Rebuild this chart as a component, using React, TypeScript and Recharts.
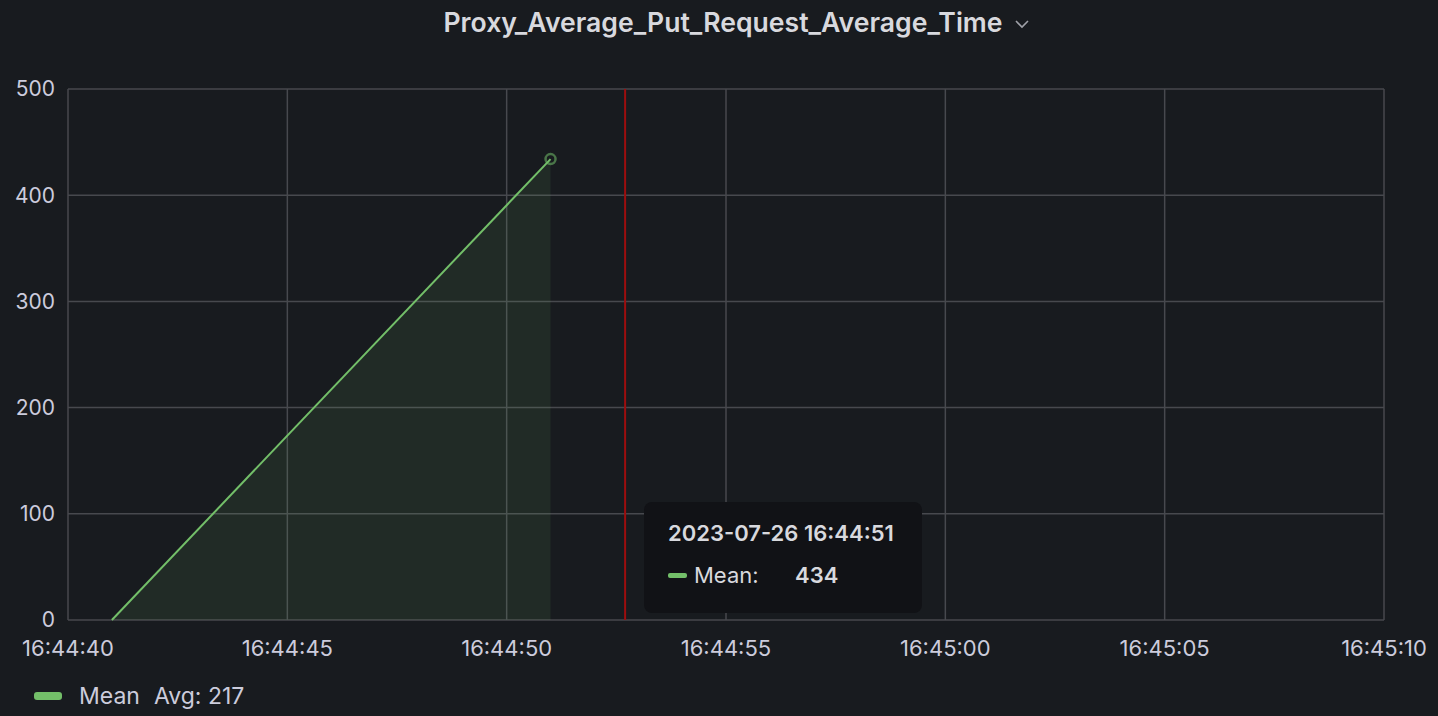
import React from "react";
import {
  ComposedChart,
  Area,
  XAxis,
  YAxis,
  CartesianGrid,
  ReferenceLine,
  Tooltip,
  Legend,
} from "recharts";

// ---- data ----
const times = ["16:44:41", "16:44:51"];
const meanValues = [0, 434];
const xTickLabels = ["16:44:40", "16:44:45", "16:44:50", "16:44:55", "16:45:00", "16:45:05", "16:45:10"];
const yTicks = [0, 100, 200, 300, 400, 500];
const cursorTime = "16:44:52.7";
const tooltipDate = "2023-07-26";
const seriesName = "Mean";
const legendAvg = 217;
const title = "Proxy_Average_Put_Request_Average_Time";

const toSec = (s: string) => {
  const [h, m, sec] = s.split(":");
  return Number(h) * 3600 + Number(m) * 60 + parseFloat(sec);
};
const pad = (n: number) => String(n).padStart(2, "0");
const fmt = (v: number) => {
  const h = Math.floor(v / 3600);
  const m = Math.floor((v % 3600) / 60);
  const s = Math.round(v % 60);
  return `${pad(h)}:${pad(m)}:${pad(s)}`;
};

const data = times.map((t, i) => ({ t: toSec(t), mean: meanValues[i] }));
const xTicks = xTickLabels.map(toSec);

const BG = "#181b1f";
const TEXT = "#ccccdc";
const GREEN = "#73bf69";
const GRID = "#47494e";
const FONT = "Inter, 'Noto Sans', sans-serif";

const TooltipContent = (props: any) => {
  const { payload } = props;
  if (!payload || !payload.length) return null;
  const p = payload[0];
  return (
    <div
      style={{
        width: 278,
        height: 111,
        boxSizing: "border-box",
        background: "#111216",
        borderRadius: 8,
        padding: "16px 0 0 24px",
        fontFamily: FONT,
        color: "#d8d9de",
      }}
    >
      <div style={{ fontSize: 22, fontWeight: 600, lineHeight: "30px" }}>
        {tooltipDate} {fmt(p.payload.t)}
      </div>
      <div style={{ display: "flex", alignItems: "center", marginTop: 12, fontSize: 22, lineHeight: "30px" }}>
        <span style={{ display: "inline-block", width: 19, height: 5, borderRadius: 2, background: GREEN, marginRight: 7 }} />
        <span style={{ width: 101 }}>{seriesName}:</span>
        <span style={{ fontWeight: 600 }}>{p.value}</span>
      </div>
    </div>
  );
};

const LegendContent = () => (
  <div style={{ display: "flex", alignItems: "center", fontFamily: FONT, fontSize: 23, color: TEXT, lineHeight: "30px" }}>
    <span style={{ display: "inline-block", width: 28, height: 8, borderRadius: 3, background: GREEN, marginRight: 17 }} />
    <span style={{ marginRight: 14 }}>{seriesName}</span>
    <span>Avg: {legendAvg}</span>
  </div>
);

export default function App() {
  return (
    <div
      style={{
        position: "absolute",
        left: 0,
        top: 0,
        width: 1438,
        height: 716,
        background: BG,
        overflow: "hidden",
      }}
    >
      <div
        style={{
          position: "absolute",
          top: 0,
          left: 0,
          width: 1438,
          height: 44,
          display: "flex",
          alignItems: "center",
          justifyContent: "center",
          fontFamily: FONT,
          fontSize: 26.6,
          fontWeight: 600,
          color: "#d8d9de",
          paddingLeft: 34,
          boxSizing: "border-box",
        }}
      >
        <span>{title}</span>
        <svg width="14" height="10" style={{ marginLeft: 12, marginTop: 4 }}>
          <polyline points="1,2 7,8 13,2" fill="none" stroke="#9fa1a8" strokeWidth="1.6" />
        </svg>
      </div>
      <div style={{ position: "absolute", left: 0, top: 0 }}>
        <ComposedChart
          width={1438}
          height={716}
          data={data}
          margin={{ top: 89, right: 54, bottom: 56, left: 0 }}
        >
          <CartesianGrid stroke={GRID} strokeWidth={1.5} />
          <XAxis
            dataKey="t"
            type="number"
            domain={[xTicks[0], xTicks[xTicks.length - 1]]}
            ticks={xTicks}
            interval={0}
            tickFormatter={fmt}
            axisLine={false}
            tickLine={false}
            tickSize={0}
            tickMargin={20}
            height={40}
            tick={{ fill: TEXT, fontSize: 22, fontFamily: FONT }}
          />
          <YAxis
            type="number"
            domain={[0, 500]}
            ticks={yTicks}
            interval={0}
            axisLine={false}
            tickLine={false}
            tickSize={0}
            tickMargin={13}
            width={68}
            tick={{ fill: TEXT, fontSize: 21, fontFamily: FONT }}
          />
          <Area
            type="linear"
            dataKey="mean"
            name={seriesName}
            stroke={GREEN}
            strokeWidth={2}
            fill={GREEN}
            fillOpacity={0.1}
            dot={false}
            activeDot={{ r: 5, fill: BG, fillOpacity: 0, stroke: GREEN, strokeOpacity: 0.55, strokeWidth: 2.5 }}
            isAnimationActive={false}
          />
          <ReferenceLine x={toSec(cursorTime)} stroke="#9c0e0e" strokeWidth={2} />
          <Tooltip
            active
            defaultIndex={1}
            cursor={false}
            position={{ x: 644, y: 502 }}
            content={<TooltipContent />}
            isAnimationActive={false}
            wrapperStyle={{ outline: "none" }}
          />
          <Legend
            layout="horizontal"
            verticalAlign="middle"
            align="center"
            wrapperStyle={{ top: 681, left: 34, width: "auto", height: 30 }}
            content={<LegendContent />}
          />
        </ComposedChart>
      </div>
    </div>
  );
}
